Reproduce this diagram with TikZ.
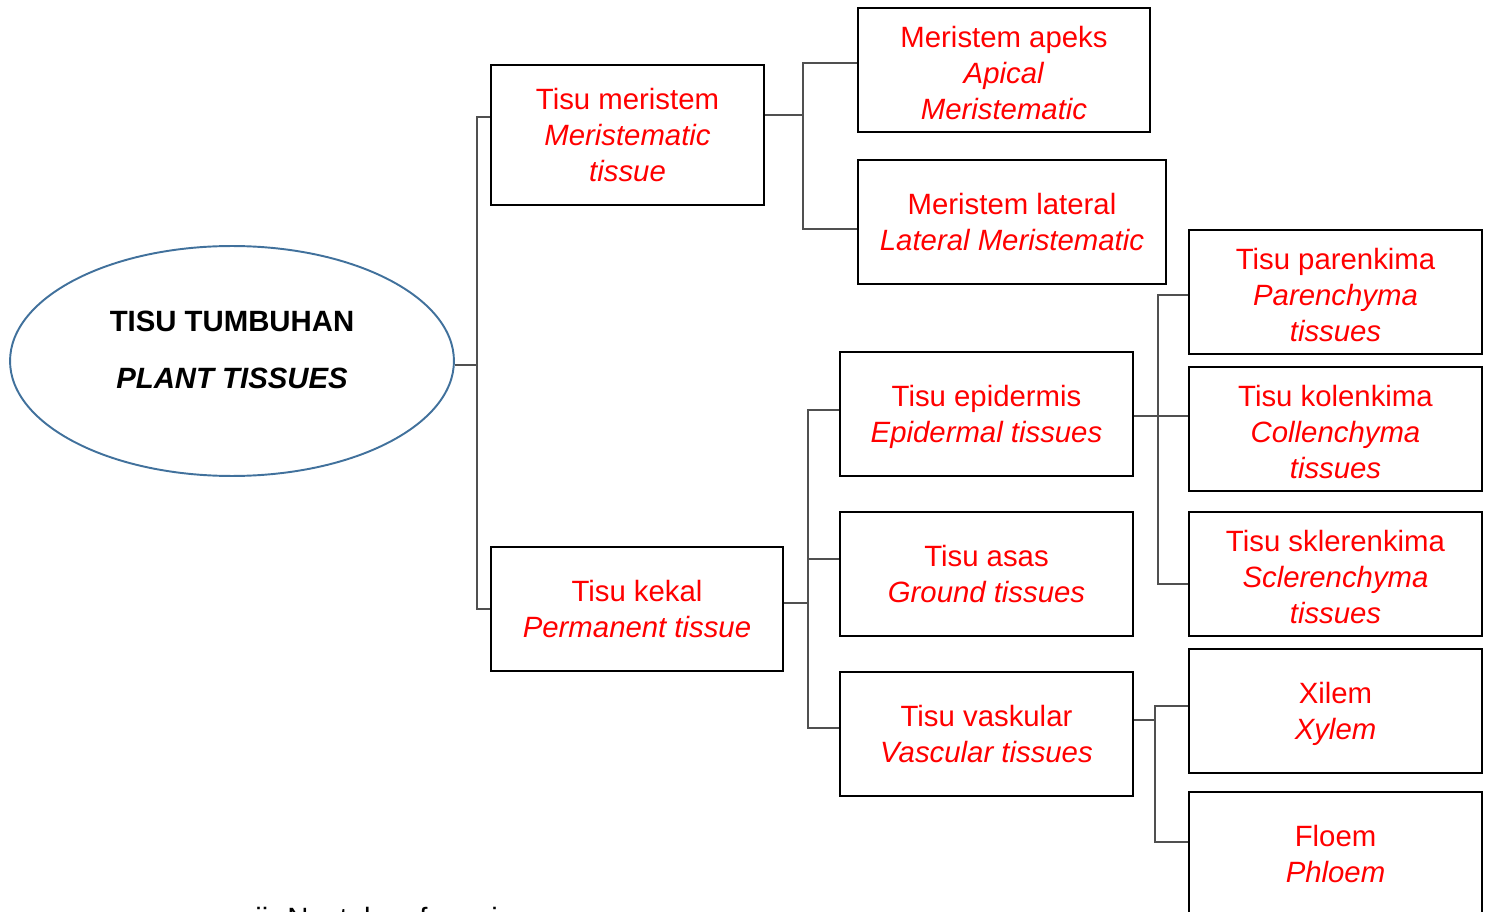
\documentclass[tikz,border=0pt]{standalone}
\usepackage{fontspec}
\setmainfont{Liberation Sans}
\usetikzlibrary{shapes.geometric}
\definecolor{ered}{RGB}{255,0,0}
\definecolor{linkgray}{RGB}{80,80,80}
\definecolor{eblue}{RGB}{65,113,156}
\newcommand{\topst}{\rule{0pt}{15.5pt}}
\begin{document}
\begin{tikzpicture}[x=0.02cm,y=-0.02cm,
  box/.style={draw=black, line width=1.4pt, text=ered, align=center, inner sep=0pt,
    font=\fontsize{16.7}{20.7}\selectfont, minimum width=5.86cm, minimum height=2.48cm},
  link/.style={draw=linkgray, line width=1.1pt}]
\useasboundingbox (0,0) rectangle (1492,912);
\clip (0,0) rectangle (1492,912);

% root
\node[draw=eblue, line width=1.1pt, ellipse, minimum width=8.88cm, minimum height=4.6cm, inner sep=0pt] (root) at (232,361) {};
\node[align=center, inner sep=0pt, font=\fontsize{16.7}{20.7}\selectfont\bfseries] (roottext) at (232,350)
  {TISU TUMBUHAN\\[11.6pt]\textit{PLANT TISSUES}};

% level 1
\node[box, minimum width=5.46cm, minimum height=2.8cm] (mer) at (627.5,135)
  {Tisu meristem\\\textit{Meristematic}\\\textit{tissue}};
\node[box, minimum width=5.84cm] (kek) at (637,609)
  {Tisu kekal\\\textit{Permanent tissue}};

% level 2
\node[box, minimum width=5.84cm] (apeks) at (1004,70)
  {\topst Meristem apeks\\\textit{Apical}\\\textit{Meristematic}};
\node[box, minimum width=6.16cm] (lateral) at (1012,222)
  {Meristem lateral\\\textit{Lateral Meristematic}};
\node[box] (epi) at (986.5,414)
  {\topst Tisu epidermis\\\textit{Epidermal tissues}};
\node[box] (asas) at (986.5,574)
  {Tisu asas\\\textit{Ground tissues}};
\node[box] (vask) at (986.5,734)
  {Tisu vaskular\\\textit{Vascular tissues}};

% level 3
\node[box] (paren) at (1335.5,292)
  {\topst Tisu parenkima\\\textit{Parenchyma}\\\textit{tissues}};
\node[box] (kolen) at (1335.5,429)
  {\topst Tisu kolenkima\\\textit{Collenchyma}\\\textit{tissues}};
\node[box] (skler) at (1335.5,574)
  {\topst Tisu sklerenkima\\\textit{Sclerenchyma}\\\textit{tissues}};
\node[box] (xil) at (1335.5,711)
  {\topst Xilem\\\textit{Xylem}};
\node[box] (flo) at (1335.5,854)
  {Floem\\\textit{Phloem}};

% bottom, cut-off question text
\node[anchor=base west, inner sep=0pt, font=\fontsize{16.7}{20.7}\selectfont] (question) at (255,928)
  {ii. Nyatakan fungsi};

% connectors
\coordinate (bA) at (477,0);
\coordinate (bB) at (803,0);
\coordinate (bC) at (808,0);
\coordinate (bD) at (1158,0);
\coordinate (bE) at (1155,0);

\draw[link] (root.east |- 0,365) -- (bA |- 0,365);
\draw[link] (mer.west |- 0,117) -| (bA |- kek.west) -- (kek.west);

\draw[link] (mer.east |- 0,115) -- (bB |- 0,115);
\draw[link] (apeks.west |- 0,63) -| (bB |- 0,229) -- (lateral.west |- 0,229);

\draw[link] (kek.east |- 0,603) -- (bC |- 0,603);
\draw[link] (epi.west |- 0,410) -| (bC |- 0,728) -- (vask.west |- 0,728);
\draw[link] (bC |- 0,559) -- (asas.west |- 0,559);

\draw[link] (epi.east |- 0,416) -- (kolen.west |- 0,416);
\draw[link] (paren.west |- 0,295) -| (bD |- 0,584) -- (skler.west |- 0,584);

\draw[link] (vask.east |- 0,720) -- (bE |- 0,720);
\draw[link] (xil.west |- 0,706) -| (bE |- 0,842) -- (flo.west |- 0,842);
\end{tikzpicture}
\end{document}
